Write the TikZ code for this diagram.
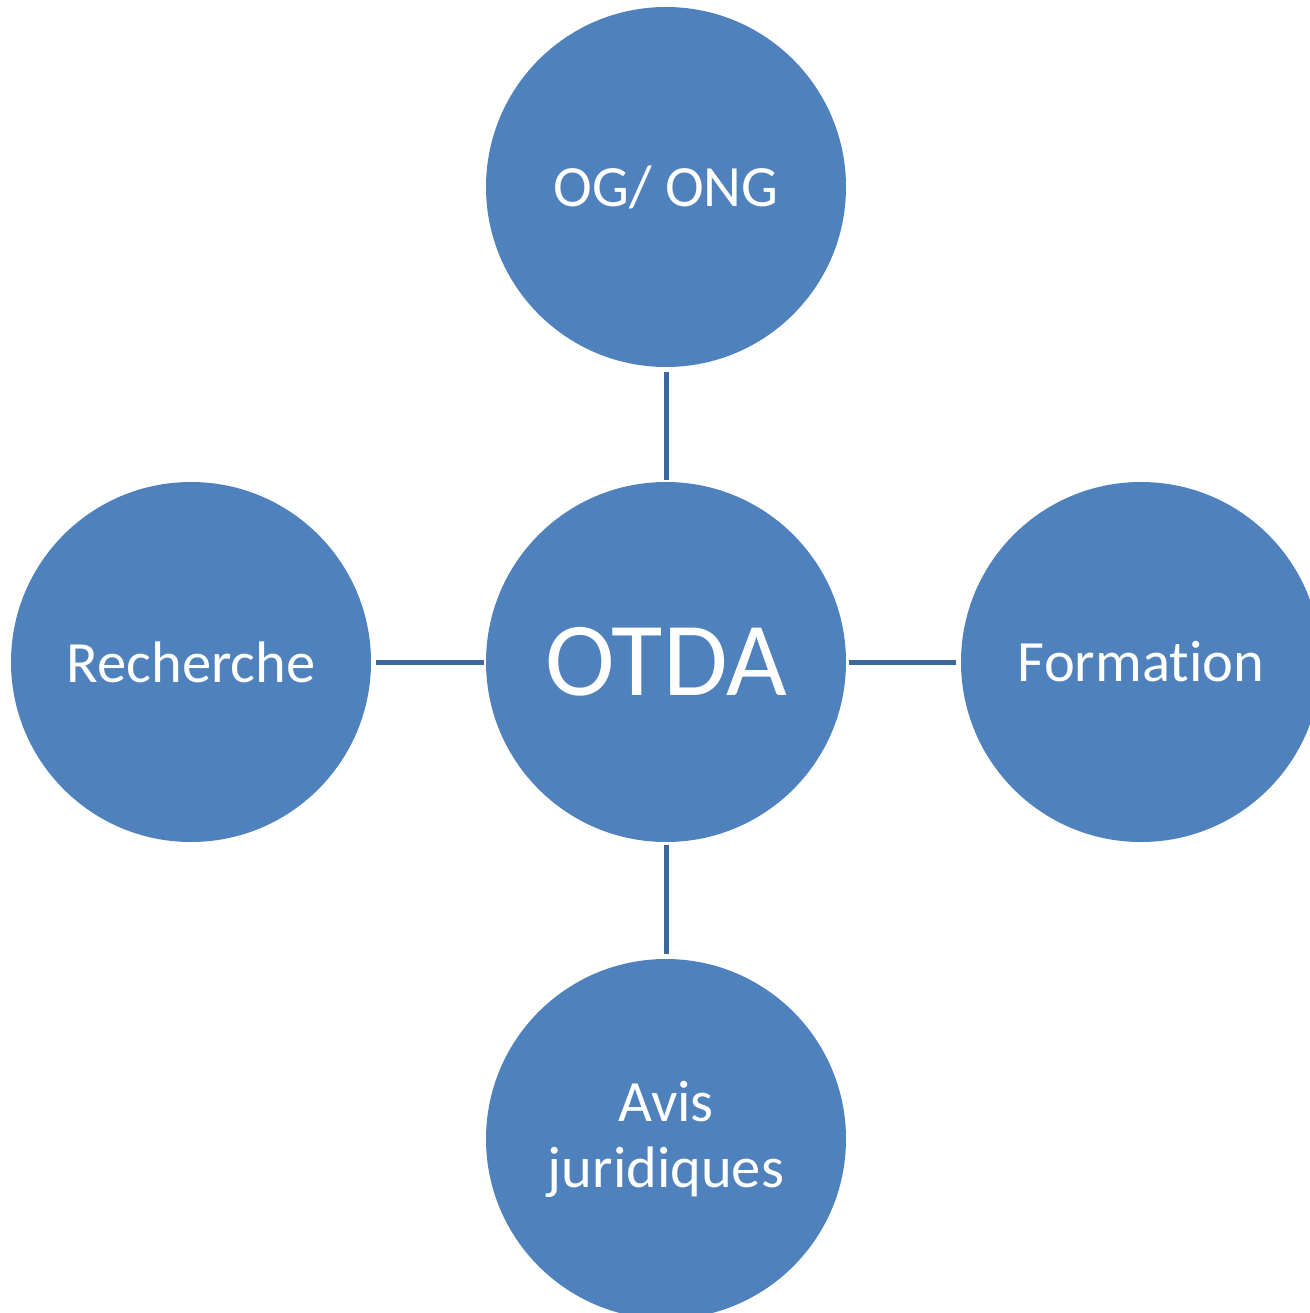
\documentclass[tikz,border=0pt]{standalone}
\usepackage{fontspec}
\setmainfont{Carlito}[Ligatures=NoCommon]
\definecolor{fillblue}{HTML}{4F81BD}
\definecolor{lineblue}{HTML}{3C679F}
\begin{document}
\begin{tikzpicture}[x=1pt,y=-1pt,
  bubble/.style={circle,fill=fillblue,draw=none,minimum size=360pt,inner sep=0pt,
     text=white,align=center,font=\fontsize{58.5}{66}\selectfont},
  link/.style={draw=lineblue,line width=5pt}]
\useasboundingbox (0,0) rectangle (1309,1313);
\node[bubble] (c) at (666,662) {\fontsize{105}{112}\selectfont OTDA};
\node[bubble] (t) at (666,187) {OG/ ONG};
\node[bubble] (l) at (191,662) {Recherche};
\node[bubble] (r) at (1141,662) {Formation};
\node[bubble] (b) at (666,1139) {Avis\\juridiques};
\draw[link,shorten <=5pt,shorten >=2pt] (t) -- (c);
\draw[link,shorten <=5pt,shorten >=2pt] (l) -- (c);
\draw[link,shorten <=3pt,shorten >=5pt] (c) -- (r);
\draw[link,shorten <=3pt,shorten >=5pt] (c) -- (b);
\end{tikzpicture}
\end{document}
